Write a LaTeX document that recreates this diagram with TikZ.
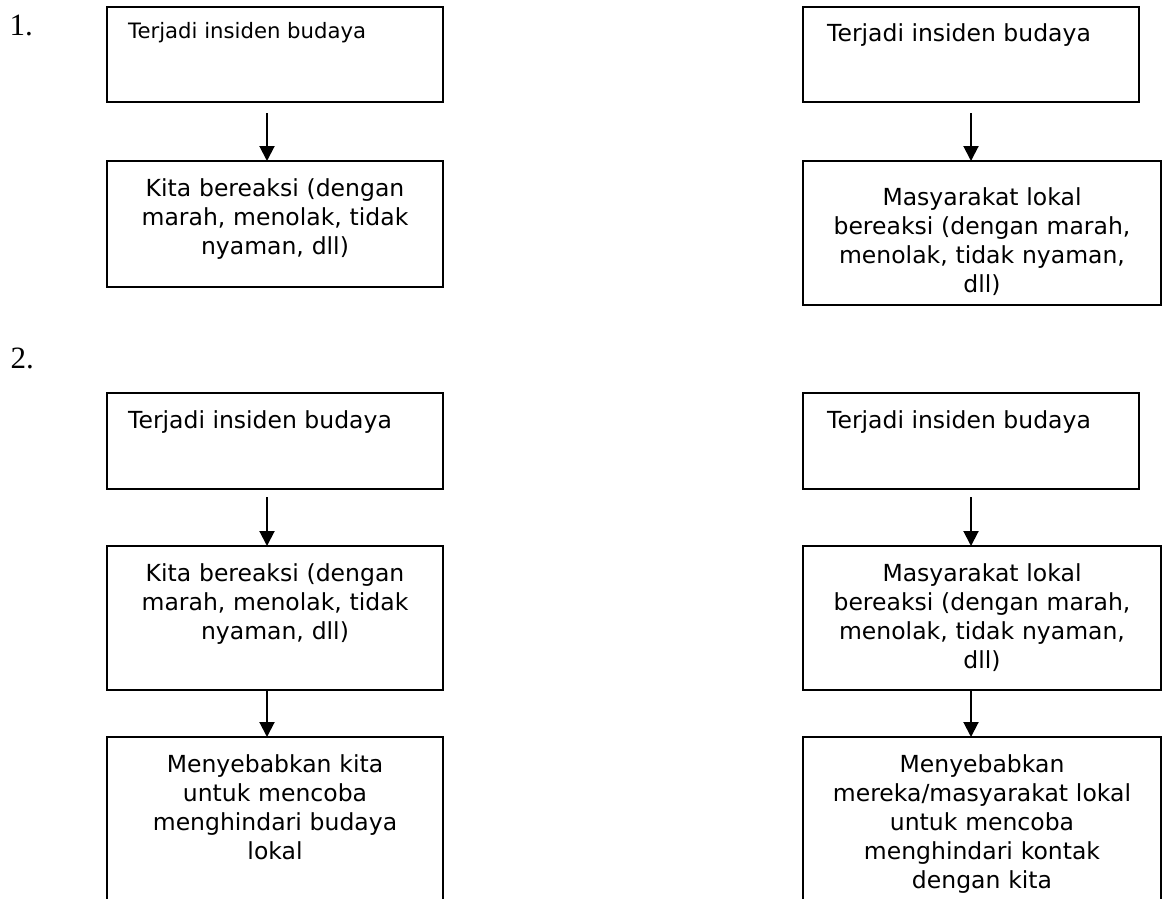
\documentclass[tikz,border=0pt]{standalone}
\usepackage{fontspec}
\setmainfont{DejaVu Sans}
\newfontfamily\numfont{Liberation Serif}
\usetikzlibrary{arrows.meta}
\tikzset{
  box/.style={draw, rectangle, inner sep=0pt, outer sep=0pt, anchor=north west, line width=1.5pt},
  thickbox/.style={box, line width=2.2pt},
  arr/.style={-{Triangle[width=15pt,length=15pt]}, line width=2pt},
  bodytxt/.style={font=\fontsize{23.5}{29}\selectfont, text width=350pt, align=center, inner sep=0pt, anchor=base},
  headtxt/.style={font=\fontsize{23.5}{29}\selectfont, inner sep=0pt, anchor=base west},
  smalltxt/.style={font=\fontsize{21.2}{26}\selectfont, inner sep=0pt, anchor=base west},
  numtxt/.style={font=\numfont\fontsize{31}{34}\selectfont, inner sep=0pt, anchor=base west}
}
\begin{document}
\begin{tikzpicture}[x=1pt,y=-1pt]
\useasboundingbox (0,0) rectangle (1162,899);
\clip (0,0) rectangle (1162,899);
\fill[white] (0,0) rectangle (1162,899);
% numbers
\node[numtxt] (n1) at (9.5,35.5) {1.};
\node[numtxt] (n2) at (10.5,368) {2.};
% section 1
\node[box, minimum width=336pt, minimum height=95pt] (A1) at (107,7) {};
\node[box, minimum width=336pt, minimum height=126pt] (A2) at (107,161) {};
\node[box, minimum width=336pt, minimum height=95pt] (B1) at (803,7) {};
\node[thickbox, minimum width=358pt, minimum height=144pt] (B2) at (803,161) {};
% section 2
\node[box, minimum width=336pt, minimum height=96pt] (C1) at (107,393) {};
\node[thickbox, minimum width=336pt, minimum height=144pt] (C2) at (107,546) {};
\node[thickbox, minimum width=336pt, minimum height=180pt] (C3) at (107,737) {};
\node[box, minimum width=336pt, minimum height=96pt] (D1) at (803,393) {};
\node[thickbox, minimum width=358pt, minimum height=144pt] (D2) at (803,546) {};
\node[thickbox, minimum width=358pt, minimum height=180pt] (D3) at (803,737) {};
% texts
\node[smalltxt] (tA1) at (128,39) {Terjadi insiden budaya};
\node[headtxt] (tB1) at (827,42) {Terjadi insiden budaya};
\node[headtxt] (tC1) at (128,428) {Terjadi insiden budaya};
\node[headtxt] (tD1) at (827,428) {Terjadi insiden budaya};
\node[bodytxt] (tA2) at (275,196) {Kita bereaksi (dengan\\marah, menolak, tidak\\nyaman, dll)};
\node[bodytxt] (tB2) at (982,205) {Masyarakat lokal\\bereaksi (dengan marah,\\menolak, tidak nyaman,\\dll)};
\node[bodytxt] (tC2) at (275,581) {Kita bereaksi (dengan\\marah, menolak, tidak\\nyaman, dll)};
\node[bodytxt] (tD2) at (982,581) {Masyarakat lokal\\bereaksi (dengan marah,\\menolak, tidak nyaman,\\dll)};
\node[bodytxt] (tC3) at (275,772) {Menyebabkan kita\\untuk mencoba\\menghindari budaya\\lokal};
\node[bodytxt] (tD3) at (982,772) {Menyebabkan\\mereka/masyarakat lokal\\untuk mencoba\\menghindari kontak\\dengan kita};
% arrows
\coordinate (xl) at (267,0);
\coordinate (xr) at (971,0);
\draw[arr] (A1.south -| xl) ++(0,11) -- (A2.north -| xl);
\draw[arr] (B1.south -| xr) ++(0,11) -- (B2.north -| xr);
\draw[arr] (C1.south -| xl) ++(0,8) -- (C2.north -| xl);
\draw[arr] (D1.south -| xr) ++(0,8) -- (D2.north -| xr);
\draw[arr] (C2.south -| xl) -- (C3.north -| xl);
\draw[arr] (D2.south -| xr) -- (D3.north -| xr);
\end{tikzpicture}
\end{document}
